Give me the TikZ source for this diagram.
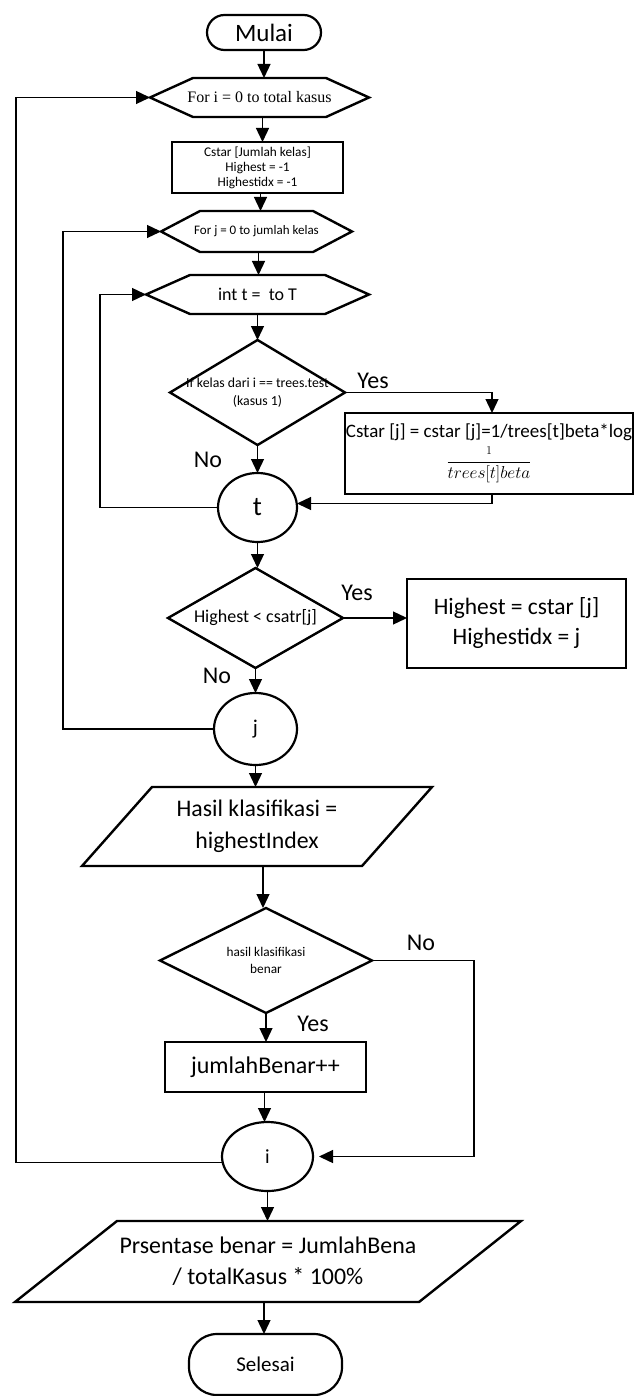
\documentclass[tikz,border=0pt]{standalone}
\usepackage{fontspec}
\setmainfont{Carlito}
\newfontfamily\timesf{Liberation Serif}
\usetikzlibrary{shapes.geometric,arrows.meta,calc}
\newcommand{\hexshape}[2]{\draw[shp] (#1.west) -- ([xshift=#2]#1.north west) -- ([xshift=-#2]#1.north east) -- (#1.east) -- ([xshift=-#2]#1.south east) -- ([xshift=#2]#1.south west) -- cycle;}
\newcommand{\diashape}[1]{\draw[shp] (#1.north) -- (#1.east) -- (#1.south) -- (#1.west) -- cycle;}
\newcommand{\parashape}[2]{\draw[shp] (#1.south west) -- ([xshift=#2]#1.north west) -- (#1.north east) -- ([xshift=-#2]#1.south east) -- cycle;}
\begin{document}
\begin{tikzpicture}[x=1pt,y=-1pt,
  base/.style={inner sep=0pt, outer sep=0pt, align=center},
  procbox/.style={base, draw, line width=2.8pt},
  term/.style={base, draw, line width=2.2pt},
  ghost/.style={base},
  circ/.style={base, draw, ellipse, line width=2.2pt},
  shp/.style={line width=2.4pt, line join=miter},
  conn/.style={line width=1.3pt},
  arr/.style={conn, -{Triangle[length=14pt,width=13pt]}},
  lbl/.style={inner sep=0pt, font=\fontsize{24}{28}\selectfont}]
\useasboundingbox (0,0) rectangle (641,1396);

\node[term, minimum width=114pt, minimum height=35pt, rounded corners=17.5pt, font=\fontsize{25}{30}\selectfont] (start) at (264,32.5) {Mulai};

\node[ghost, minimum width=219pt, minimum height=39pt, font=\timesf\fontsize{16}{19}\selectfont] (forI) at (259.5,97.5) {For i = 0 to total kasus};
\hexshape{forI}{43pt}

\node[procbox, minimum width=171pt, minimum height=51pt, font=\fontsize{13.3}{15}\selectfont] (cstar) at (257.5,167.5) {Cstar [Jumlah kelas]\\Highest = -1\\Highestidx = -1};

\node[ghost, minimum width=191pt, minimum height=41pt, font=\fontsize{13}{16}\selectfont] (forJ) at (256.5,231.5) {For j = 0 to jumlah kelas};
\hexshape{forJ}{39pt}

\node[ghost, minimum width=223pt, minimum height=39pt, font=\fontsize{18}{22}\selectfont] (intT) at (257.5,294.5) {int t =\ \ to T};
\hexshape{intT}{44pt}

\node[ghost, minimum width=175pt, minimum height=105pt, font=\fontsize{13.8}{18}\selectfont] (d1) at (257.5,392.5) {If kelas dari i == trees.test\\(kasus 1)};
\diashape{d1}

\node[procbox, minimum width=288pt, minimum height=81pt] (formula) at (489,453.5) {{\fontsize{19}{22}\selectfont Cstar [j] = cstar [j]=1/trees[t]beta*log}\\[5pt]{\fontsize{17.5}{20}\selectfont $\displaystyle\frac{\scriptstyle 1}{trees[t]beta}$}};

\node[circ, minimum width=79pt, minimum height=69pt, font=\fontsize{27}{30}\selectfont] (t) at (257.5,507.5) {t};

\node[ghost, minimum width=175pt, minimum height=100pt, font=\fontsize{18}{22}\selectfont] (d2) at (255.5,618) {Highest < csatr[j]};
\diashape{d2}

\node[procbox, minimum width=219pt, minimum height=89pt, font=\fontsize{23.5}{30}\selectfont] (high) at (516.5,623.5) {Highest = cstar [j]\\Highestidx = j};

\node[circ, minimum width=83pt, minimum height=72pt, font=\fontsize{21}{25}\selectfont] (j) at (255.5,729) {j};

\node[ghost, minimum width=350pt, minimum height=79pt, font=\fontsize{23.8}{32}\selectfont] (hasil) at (257,826.5) {Hasil klasifikasi =\\highestIndex};
\parashape{hasil}{70pt}

\node[ghost, minimum width=212pt, minimum height=105pt, font=\fontsize{13.3}{17}\selectfont] (d3) at (266,960.5) {hasil klasifikasi\\benar};
\diashape{d3}

\node[procbox, minimum width=201pt, minimum height=50pt, font=\fontsize{24}{28}\selectfont] (jb) at (265.5,1067) {jumlahBenar++};

\node[circ, minimum width=91pt, minimum height=69pt, font=\fontsize{20}{24}\selectfont] (i) at (267.5,1156.5) {i};

\node[ghost, minimum width=506pt, minimum height=81pt, font=\fontsize{23.9}{31}\selectfont] (prs) at (268,1261.5) {Prsentase benar = JumlahBena\\ / totalKasus * 100\%};
\parashape{prs}{102pt}

\node[term, minimum width=153pt, minimum height=61pt, rounded corners=28pt, font=\fontsize{21}{25}\selectfont] (end) at (265.5,1364.5) {Selesai};

% labels
\node[lbl] (y1) at (373,381) {Yes};
\node[lbl] (n1) at (208,460) {No};
\node[lbl] (y2) at (357,593) {Yes};
\node[lbl] (n2) at (217,676) {No};
\node[lbl] (n3) at (421,943) {No};
\node[lbl] (y3) at (313,1024) {Yes};

% connectors
\draw[arr] (start.south) -- (start.south |- forI.north);
\draw[arr] ([xshift=3pt]forI.south) -- ([xshift=3pt]forI.south |- cstar.north);
\draw[arr] ([xshift=3pt]cstar.south) -- ([xshift=3pt]cstar.south |- forJ.north);
\draw[arr] ([xshift=2pt]forJ.south) -- ([xshift=2pt]forJ.south |- intT.north);
\draw[arr] (intT.south) -- (d1.north);
\draw[arr] (d1.east) -| ([xshift=3pt]formula.north);
\draw[arr] (d1.south) -- (t.north);
\draw[arr] ([xshift=3pt]formula.south) |- ([yshift=4pt]t.east);
\draw[arr] (t.south) -- (t.south |- d2.north);
\draw[arr] (d2.east) -- (d2.east -| high.west);
\draw[arr] (d2.south) -- (d2.south |- j.north);
\draw[arr] (j.west) -- ++(-151,0) |- (forJ.west);
\draw[arr] (t.west) -- ++(-118,0) |- (intT.west);
\draw[arr] (j.south) -- (j.south |- hasil.north);
\draw[arr] ([xshift=6pt]hasil.south) -- ([xshift=6pt]hasil.south |- d3.north);
\draw[arr] (d3.east) -- ++(102,0) |- ([xshift=6pt]i.east);
\draw[arr] (d3.south) -- (d3.south |- jb.north);
\draw[arr] ([xshift=-1pt]jb.south) -- ([xshift=-1pt]jb.south |- i.north);
\draw[conn] ([yshift=-6pt]i.west) -- ++(-206,0) coordinate (iloop);
\draw[arr] (iloop) |- (forI.west);
\draw[arr] (i.south) -- (i.south |- prs.north);
\draw[arr] ([xshift=-4pt]prs.south) -- ([xshift=-4pt]prs.south |- end.north);
\end{tikzpicture}
\end{document}
